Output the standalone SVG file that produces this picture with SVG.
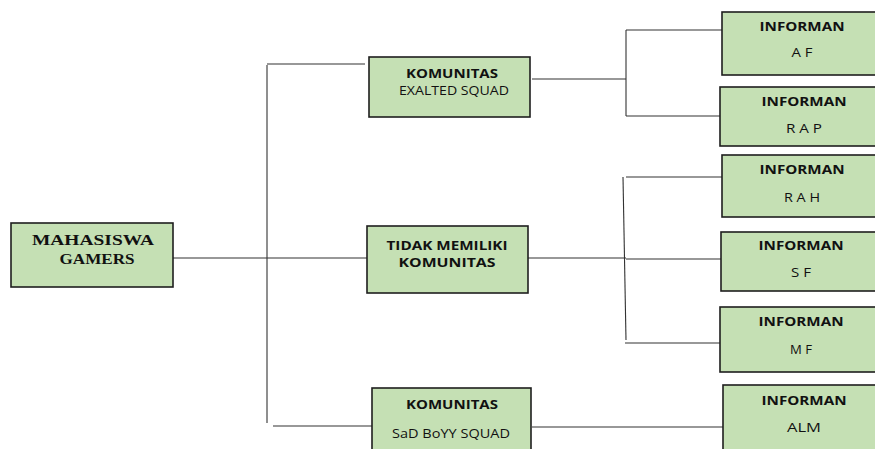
<svg xmlns="http://www.w3.org/2000/svg" width="875" height="449" viewBox="0 0 875 449">
<style>
.box{fill:#c5e0b4;stroke:#1e1e1e;stroke-width:1.6}
.ln{stroke:#333;stroke-width:1.1;fill:none}
.t{font-family:"Open Sans","Liberation Sans",sans-serif;font-size:13px;fill:#111;text-anchor:middle}
.b{font-weight:bold;font-size:12.5px}
.serif{font-family:"Liberation Serif",serif;font-size:15px;font-weight:bold;fill:#111;text-anchor:middle}
</style>
<rect width="875" height="449" fill="#fff"/>
<g id="connectors">
<path class="ln" d="M173 258H367"/>
<path class="ln" d="M267 65V423"/>
<path class="ln" d="M267 64H365"/>
<path class="ln" d="M273 426H372"/>
<path class="ln" d="M532 79H626"/>
<path class="ln" d="M626 30V116"/>
<path class="ln" d="M626 30H722"/>
<path class="ln" d="M626 116H724"/>
<path class="ln" d="M528 258H626"/>
<path class="ln" d="M623 177L626 340"/>
<path class="ln" d="M626 177H724"/>
<path class="ln" d="M626 259H724"/>
<path class="ln" d="M625 343H722"/>
<path class="ln" d="M532 427H723"/>
</g>
<g id="root">
<rect class="box" x="11" y="223" width="162" height="64"/>
<text class="serif" x="93" y="245" textLength="122" lengthAdjust="spacingAndGlyphs">MAHASISWA</text>
<text class="serif" x="97" y="264" textLength="75" lengthAdjust="spacingAndGlyphs">GAMERS</text>
</g>
<g id="exalted">
<rect class="box" x="369" y="57" width="161" height="60"/>
<text class="t b" x="452" y="78" textLength="92" lengthAdjust="spacingAndGlyphs">KOMUNITAS</text>
<text class="t" x="454" y="95" textLength="110" lengthAdjust="spacingAndGlyphs">EXALTED SQUAD</text>
</g>
<g id="tidak">
<rect class="box" x="367" y="226" width="161" height="67"/>
<text class="t b" x="447" y="250" textLength="121" lengthAdjust="spacingAndGlyphs">TIDAK MEMILIKI</text>
<text class="t b" x="447" y="267" textLength="97" lengthAdjust="spacingAndGlyphs">KOMUNITAS</text>
</g>
<g id="sadboyy">
<rect class="box" x="372" y="388" width="159" height="70"/>
<text class="t b" x="452" y="409" textLength="92" lengthAdjust="spacingAndGlyphs">KOMUNITAS</text>
<text class="t" x="451" y="438" textLength="118" lengthAdjust="spacingAndGlyphs">SaD BoYY SQUAD</text>
</g>
<g id="af">
<rect class="box" x="722" y="12" width="165" height="63"/>
<text class="t b" x="802" y="31" textLength="85" lengthAdjust="spacingAndGlyphs">INFORMAN</text>
<text class="t" x="802" y="57" textLength="21" lengthAdjust="spacingAndGlyphs">A F</text>
</g>
<g id="rap">
<rect class="box" x="720" y="87" width="167" height="59"/>
<text class="t b" x="804" y="106" textLength="85" lengthAdjust="spacingAndGlyphs">INFORMAN</text>
<text class="t" x="804" y="133" textLength="36" lengthAdjust="spacingAndGlyphs">R A P</text>
</g>
<g id="rah">
<rect class="box" x="722" y="155" width="165" height="62"/>
<text class="t b" x="802" y="174" textLength="85" lengthAdjust="spacingAndGlyphs">INFORMAN</text>
<text class="t" x="802" y="202" textLength="36" lengthAdjust="spacingAndGlyphs">R A H</text>
</g>
<g id="sf">
<rect class="box" x="721" y="232" width="166" height="59"/>
<text class="t b" x="801" y="250" textLength="85" lengthAdjust="spacingAndGlyphs">INFORMAN</text>
<text class="t" x="801" y="277" textLength="20" lengthAdjust="spacingAndGlyphs">S F</text>
</g>
<g id="mf">
<rect class="box" x="720" y="307" width="167" height="65"/>
<text class="t b" x="801" y="326" textLength="85" lengthAdjust="spacingAndGlyphs">INFORMAN</text>
<text class="t" x="801" y="354" textLength="22" lengthAdjust="spacingAndGlyphs">M F</text>
</g>
<g id="alm">
<rect class="box" x="723" y="385" width="164" height="70"/>
<text class="t b" x="804" y="405" textLength="85" lengthAdjust="spacingAndGlyphs">INFORMAN</text>
<text class="t" x="804" y="432" textLength="34" lengthAdjust="spacingAndGlyphs">ALM</text>
</g>
</svg>
